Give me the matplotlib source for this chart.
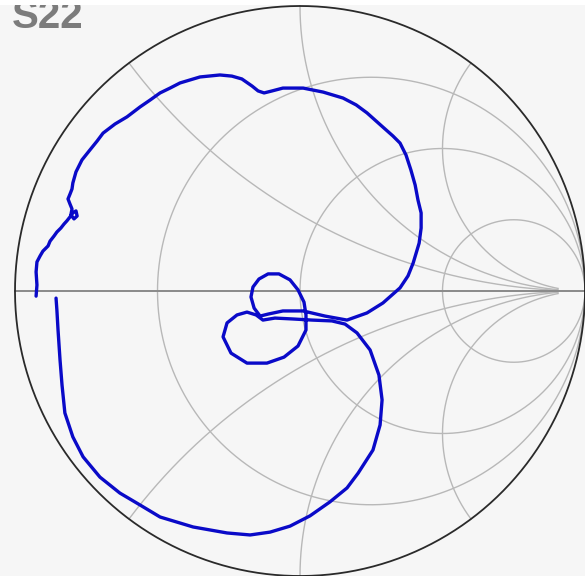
import numpy as np
import matplotlib
matplotlib.use("Agg")
import matplotlib.pyplot as plt
from matplotlib.patches import Rectangle

s22_re = [-0.926, -0.923, -0.926, -0.923, -0.912, -0.902, -0.884, -0.877, -0.863, -0.853,
          -0.839, -0.828, -0.818, -0.807, -0.797, -0.786, -0.782, -0.793, -0.804, -0.800,
          -0.807, -0.814, -0.807, -0.800, -0.797, -0.786, -0.765, -0.737, -0.712, -0.691,
          -0.649, -0.607, -0.561, -0.526, -0.491, -0.456, -0.421, -0.351, -0.281, -0.239,
          -0.204, -0.168, -0.147, -0.126, -0.098, -0.060, 0.011, 0.081, 0.151, 0.197,
          0.235, 0.291, 0.326, 0.351, 0.372, 0.389, 0.404, 0.414, 0.425, 0.425,
          0.418, 0.397, 0.379, 0.351, 0.291, 0.235, 0.165, 0.088, 0.011, -0.060,
          -0.112, -0.140, -0.161, -0.172, -0.165, -0.144, -0.112, -0.074, -0.035, -0.007,
          0.014, 0.021, 0.021, -0.007, -0.056, -0.116, -0.186, -0.242, -0.270, -0.256,
          -0.221, -0.186, -0.154, -0.130, -0.088, -0.028, 0.042, 0.112, 0.158, 0.200,
          0.246, 0.277, 0.288, 0.281, 0.256, 0.204, 0.165, 0.105, 0.035, -0.035,
          -0.105, -0.175, -0.256, -0.375, -0.491, -0.561, -0.632, -0.702, -0.761, -0.797,
          -0.825, -0.835, -0.842, -0.849, -0.853, -0.856]
s22_im = [-0.018, 0.021, 0.067, 0.102, 0.123, 0.140, 0.158, 0.175, 0.193, 0.207,
          0.221, 0.235, 0.246, 0.260, 0.274, 0.281, 0.263, 0.253, 0.267, 0.288,
          0.305, 0.323, 0.340, 0.358, 0.379, 0.418, 0.460, 0.495, 0.526, 0.554,
          0.586, 0.611, 0.646, 0.670, 0.695, 0.712, 0.730, 0.751, 0.758, 0.754,
          0.744, 0.719, 0.702, 0.695, 0.702, 0.712, 0.712, 0.698, 0.677, 0.653,
          0.625, 0.575, 0.544, 0.519, 0.477, 0.425, 0.372, 0.319, 0.274, 0.221,
          0.168, 0.098, 0.053, 0.011, -0.042, -0.077, -0.102, -0.088, -0.070, -0.070,
          -0.081, -0.088, -0.060, -0.021, 0.014, 0.042, 0.060, 0.060, 0.039, 0.004,
          -0.039, -0.084, -0.137, -0.193, -0.232, -0.253, -0.253, -0.218, -0.161, -0.112,
          -0.084, -0.074, -0.084, -0.102, -0.095, -0.098, -0.102, -0.105, -0.116, -0.147,
          -0.207, -0.295, -0.382, -0.470, -0.558, -0.639, -0.691, -0.740, -0.789, -0.825,
          -0.846, -0.856, -0.849, -0.828, -0.793, -0.751, -0.709, -0.653, -0.582, -0.512,
          -0.428, -0.330, -0.242, -0.137, -0.067, -0.025]

# grid values of the Smith chart
r_circles = [1 / 3, 1, 3]
x_arcs = [0.5, 1, 2]

W, H = 587, 576
fig = plt.figure(figsize=(W / 100, H / 100), dpi=100)
fig.patch.set_facecolor("white")
ax = fig.add_axes([0, 0, 1, 1])
ax.set_facecolor("#f6f6f6")

# chart centre at pixel (300, 291), unit radius 285 px
cx, cy, rad = 300, 291, 285
ax.set_xlim(-cx / rad, (W - cx) / rad)
ax.set_ylim((cy - H) / rad, cy / rad)
ax.set_aspect("equal")
ax.axis("off")
ax.add_patch(Rectangle((0, 0), 1, 1, transform=ax.transAxes,
                       facecolor="#f6f6f6", edgecolor="none", zorder=0))

grid_col = "#b8b8b8"
t = np.linspace(0, 2 * np.pi, 600)
for r in r_circles:
    c = r / (1 + r)
    rr = 1 / (1 + r)
    ax.plot(c + rr * np.cos(t), rr * np.sin(t), color=grid_col, lw=1.0, zorder=1)

rvals = np.concatenate([[0], np.geomspace(0.001, 20, 800)])
for x in x_arcs:
    for sx in (x, -x):
        z = rvals + 1j * sx
        g = (z - 1) / (z + 1)
        ax.plot(g.real, g.imag, color=grid_col, lw=1.0, zorder=1)

ax.plot([-1, 1], [0, 0], color="#8a8a8a", lw=1.4, zorder=2)
ax.plot(np.cos(t), np.sin(t), color="#2a2a2a", lw=1.3, zorder=2)

ax.plot(s22_re, s22_im, color="#0a0ac8", lw=2.4, solid_joinstyle="round",
        solid_capstyle="round", zorder=3)

fig.text(12 / W, 1 - 28 / H, "S22", fontsize=29, fontweight="bold",
         color="#7c7c7c", family="Liberation Sans", va="baseline", ha="left")

# white border strips at top and right
fig.patches.append(Rectangle((0, 1 - 5 / H), 1, 5 / H, transform=fig.transFigure,
                             facecolor="white", edgecolor="none", zorder=10))
fig.patches.append(Rectangle((1 - 2 / W, 0), 2 / W, 1, transform=fig.transFigure,
                             facecolor="white", edgecolor="none", zorder=10))

fig.savefig("out.png", dpi=100)
